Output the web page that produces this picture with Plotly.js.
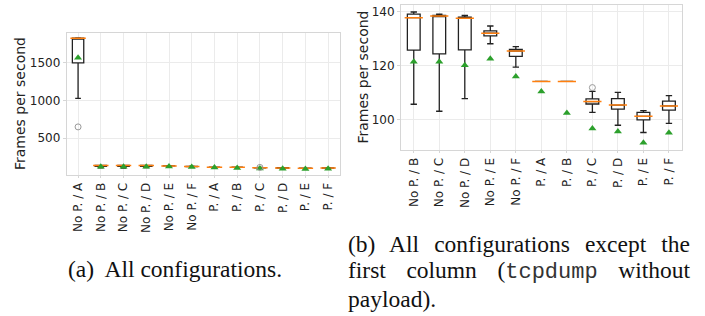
<!DOCTYPE html>
<html><head><meta charset="utf-8">
<script src="https://cdn.plot.ly/plotly-3.0.1.min.js"></script>
<style>
body{margin:0;background:#fff;}
#wrap{position:relative;width:705px;height:316px;overflow:hidden;background:#fff;}
#chart{position:absolute;left:0;top:0;width:705px;height:316px;}
.cap{position:absolute;font-family:"Liberation Serif","DejaVu Serif","Times New Roman",serif;font-size:23.5px;color:#111;line-height:26px;}
.j{text-align:justify;text-align-last:justify;}
.mono{font-family:"Liberation Mono","Courier New",monospace;font-size:22px;color:#333;}
</style></head>
<body><div id="wrap"><div id="chart"></div>
<div class="cap" style="left:68px;top:256px;white-space:nowrap;">(a)&nbsp; All configurations.</div>
<div class="cap" style="left:348px;top:231px;width:342px;">
 <div class="j">(b) All configurations except the</div>
 <div class="j">first column (<span class="mono">tcpdump</span> without</div>
 <div>payload).</div>
</div>
</div>
<script>
const categories = ["No P. / A","No P. / B","No P. / C","No P. / D","No P. / E","No P. / F","P. / A","P. / B","P. / C","P. / D","P. / E","P. / F"];
const lowerWhisker = [1030,105.6,103.0,107.7,128.1,119.4,114.1,114.1,102.6,97.8,95.1,98.5];
const q1 = [1500,125.7,124.3,125.8,131.0,123.4,114.1,114.1,105.7,103.8,99.8,103.4];
const median = [1828,137.8,138.4,137.6,132.0,125.4,114.1,114.1,106.6,105.3,101.1,105.0];
const q3 = [1830,139.1,138.6,138.0,132.9,126.0,114.1,114.1,107.6,107.7,102.6,106.8];
const upperWhisker = [1832,139.9,139.1,138.6,134.7,127.0,114.1,114.1,110.4,110.0,103.2,108.8];
const mean = [1567,121.4,121.4,120.1,122.5,115.9,110.3,102.4,96.6,95.5,91.3,95.0];
const outlierCats = ["No P. / A","P. / C"];
const outlierValues = [650,111.8];
const yTitle = "Frames per second";

const FONT = "DejaVu Sans, sans-serif";
const INK = "#222";

function panel(from, xa, ya, medSize){
  const c = categories.slice(from);
  const traces = [];
  traces.push({type:'box', x:c, q1:q1.slice(from), median:median.slice(from), q3:q3.slice(from),
    lowerfence:lowerWhisker.slice(from), upperfence:upperWhisker.slice(from),
    boxpoints:false, fillcolor:'#ffffff', line:{color:INK,width:1.3}, width:0.5, whiskerwidth:0.5,
    xaxis:xa, yaxis:ya, showlegend:false, hoverinfo:'skip'});
  traces.push({type:'scatter', mode:'markers', x:c, y:median.slice(from), xaxis:xa, yaxis:ya,
    marker:{symbol:'line-ew', size:medSize, color:'#ff7f0e', line:{color:'#ff7f0e', width:1.5}},
    showlegend:false, hoverinfo:'skip'});
  traces.push({type:'scatter', mode:'markers', x:c, y:mean.slice(from), xaxis:xa, yaxis:ya,
    marker:{symbol:'triangle-up', size:7, color:'#2ca02c'}, showlegend:false, hoverinfo:'skip'});
  const ox = [], oy = [];
  outlierCats.forEach((k,i)=>{ if(c.indexOf(k)>=0){ ox.push(k); oy.push(outlierValues[i]); } });
  traces.push({type:'scatter', mode:'markers', x:ox, y:oy, xaxis:xa, yaxis:ya,
    marker:{symbol:'circle-open', size:6, color:'#999', line:{width:1}}, showlegend:false, hoverinfo:'skip'});
  return traces;
}

const data = panel(0,'x','y',11).concat(panel(1,'x2','y2',13));

const W=705, H=316;
function xaxis(l,r,n,anchor){
  return {domain:[l/W, r/W], anchor:anchor, type:'category', range:[-0.5, n-0.5],
    showgrid:true, gridcolor:'#ebebeb', gridwidth:1, showline:true, linecolor:'#d6d6d6', linewidth:1, mirror:true,
    ticks:'outside', ticklen:2, tickcolor:'#d6d6d6', tickangle:-90,
    tickfont:{family:FONT, size:12, color:INK}, zeroline:false, fixedrange:true};
}
function yaxis(t,b,range,tv,anchor){
  return {domain:[1-b/H, 1-t/H], anchor:anchor, range:range, tickvals:tv,
    showgrid:true, gridcolor:'#ebebeb', gridwidth:1, showline:true, linecolor:'#d6d6d6', linewidth:1, mirror:true,
    ticks:'outside', ticklen:3, tickcolor:'#d6d6d6',
    tickfont:{family:FONT, size:12, color:INK}, zeroline:false, fixedrange:true};
}

const layout = {
  width:W, height:H, margin:{l:0,r:0,t:0,b:0}, paper_bgcolor:'rgba(0,0,0,0)', plot_bgcolor:'#fff',
  showlegend:false,
  xaxis: xaxis(66.7, 339.5, 12, 'y'),
  yaxis: yaxis(32.5, 175, [11, 1904], [500,1000,1500], 'x'),
  xaxis2: xaxis(401, 681.7, 11, 'y2'),
  yaxis2: yaxis(5, 150, [88.6, 142.5], [100,120,140], 'x2'),
  annotations: [
    {text:yTitle, xref:'paper', yref:'paper', x:20/W, y:1-104/H, xanchor:'center', yanchor:'middle',
     textangle:-90, showarrow:false, font:{family:FONT, size:14, color:INK}},
    {text:yTitle, xref:'paper', yref:'paper', x:363/W, y:1-77.5/H, xanchor:'center', yanchor:'middle',
     textangle:-90, showarrow:false, font:{family:FONT, size:14, color:INK}}
  ]
};

Plotly.newPlot('chart', data, layout, {staticPlot:true, displayModeBar:false});
</script>
</body></html>
